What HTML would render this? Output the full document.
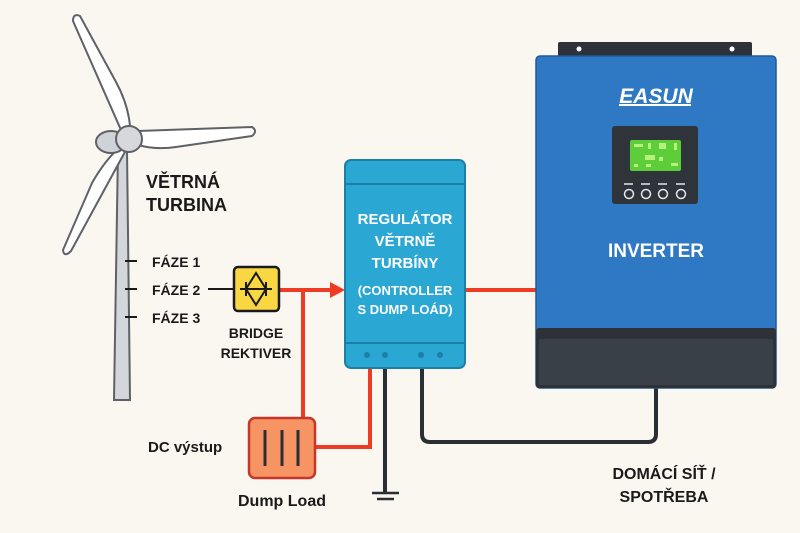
<!DOCTYPE html>
<html><head><meta charset="utf-8"><style>
html,body{margin:0;padding:0;background:#faf7f1;}
svg{display:block;font-family:"Liberation Sans","DejaVu Sans",sans-serif;}
</style></head><body>
<svg width="800" height="533" viewBox="0 0 800 533" xmlns="http://www.w3.org/2000/svg">
<rect width="800" height="533" fill="#faf7f1"/>
<!-- tower -->
<path d="M118,150 L127,150 L130,400 L114,400 Z" fill="#d3d6da" stroke="#5e6166" stroke-width="2"/>
<!-- blades -->
<path d="M121,130 L73,21 Q73,13 80,16 L116,82 Q128,104 130,126 Z" fill="#fff" stroke="#5e6166" stroke-width="2" stroke-linejoin="round"/>
<path d="M138,131 L252,127 Q258,131 252,136 L176,147 Q156,150 138,145 Z" fill="#fff" stroke="#5e6166" stroke-width="2" stroke-linejoin="round"/>
<path d="M126,150 L71,251 Q64,258 63,250 L92,183 Q105,160 121,146 Z" fill="#fff" stroke="#5e6166" stroke-width="2" stroke-linejoin="round"/>
<ellipse cx="111" cy="142" rx="15" ry="11" fill="#cfd2d6" stroke="#5e6166" stroke-width="2"/>
<circle cx="129" cy="139" r="13" fill="#d6d8db" stroke="#5e6166" stroke-width="2"/>
<!-- labels turbine -->
<g font-weight="bold" fill="#1a1a1a">
<text x="146" y="188" font-size="18">VĚTRNÁ</text>
<text x="146" y="211" font-size="18">TURBINA</text>
<text x="152" y="267" font-size="14">FÁZE 1</text>
<text x="152" y="295" font-size="14">FÁZE 2</text>
<text x="152" y="323" font-size="14">FÁZE 3</text>
<text x="256" y="338" font-size="14" text-anchor="middle">BRIDGE</text>
<text x="256" y="358" font-size="14" text-anchor="middle">REKTIVER</text>
<text x="148" y="452" font-size="15">DC výstup</text>
<text x="282" y="506" font-size="16" text-anchor="middle">Dump Load</text>
<text x="664" y="479" font-size="16" text-anchor="middle">DOMÁCÍ SÍŤ /</text>
<text x="664" y="502" font-size="16" text-anchor="middle">SPOTŘEBA</text>
</g>
<g stroke="#1a1a1a" stroke-width="2">
<line x1="125" y1="261" x2="137" y2="261"/>
<line x1="125" y1="289" x2="137" y2="289"/>
<line x1="125" y1="317" x2="137" y2="317"/>
<line x1="208" y1="289" x2="234" y2="289"/>
</g>
<!-- red wires -->
<g stroke="#ee3b24" stroke-width="4" fill="none">
<line x1="279" y1="290" x2="335" y2="290"/>
<line x1="303" y1="290" x2="303" y2="418"/>
<polyline points="315,447 370,447 370,368"/>
<line x1="465" y1="290" x2="537" y2="290"/>
</g>
<polygon points="330,282 345,290 330,298" fill="#ee3b24"/>
<!-- black wires -->
<g stroke="#2b2f35" stroke-width="4" fill="none">
<line x1="385" y1="368" x2="385" y2="492"/>
<path d="M422,368 L422,434 Q422,442 430,442 L648,442 Q656,442 656,434 L656,388"/>
<line x1="372" y1="493" x2="399" y2="493" stroke-width="2.5"/>
<line x1="377" y1="499" x2="394" y2="499" stroke-width="2.5"/>
</g>
<!-- bridge -->
<rect x="234" y="267" width="45" height="44" rx="4" fill="#f8d742" stroke="#1a1a1a" stroke-width="2.5"/>
<g stroke="#1a1a1a" stroke-width="2" fill="none">
<path d="M256,273 L246,289 L256,305 L266,289 Z"/>
<line x1="240" y1="289" x2="272" y2="289"/>
<line x1="246" y1="282" x2="246" y2="296"/>
<line x1="266" y1="282" x2="266" y2="296"/>
</g>
<!-- dump load -->
<rect x="249" y="418" width="66" height="60" rx="6" fill="#f79463" stroke="#c8352a" stroke-width="2.5"/>
<g stroke="#2b2f35" stroke-width="3">
<line x1="265" y1="430" x2="265" y2="466"/><line x1="282" y1="430" x2="282" y2="466"/><line x1="298" y1="430" x2="298" y2="466"/>
</g>
<!-- controller -->
<rect x="345" y="160" width="120" height="208" rx="6" fill="#2aa7d2" stroke="#1c7fa6" stroke-width="2"/>
<line x1="346" y1="184" x2="464" y2="184" stroke="#1c7fa6" stroke-width="2"/>
<line x1="346" y1="343" x2="464" y2="343" stroke="#1c7fa6" stroke-width="2"/>
<g fill="#1c7fa6"><circle cx="367" cy="355" r="3"/><circle cx="385" cy="355" r="3"/><circle cx="421" cy="355" r="3"/><circle cx="440" cy="355" r="3"/></g>
<g fill="#fff" font-weight="bold" text-anchor="middle">
<text x="405" y="224" font-size="15">REGULÁTOR</text>
<text x="405" y="246" font-size="15">VĚTRNĚ</text>
<text x="405" y="268" font-size="15">TURBÍNY</text>
<text x="405" y="295" font-size="13">(CONTROLLER</text>
<text x="405" y="314" font-size="13">S DUMP LOÁD)</text>
</g>
<!-- inverter -->
<rect x="558" y="42" width="194" height="16" rx="2" fill="#2e3238"/>
<circle cx="579" cy="49" r="2.5" fill="#fff"/><circle cx="732" cy="49" r="2.5" fill="#fff"/>
<rect x="536" y="56" width="240" height="332" rx="4" fill="#2f78c4" stroke="#1f5a99" stroke-width="1.5"/>
<rect x="536" y="328" width="240" height="60" rx="3" fill="#2e3238"/>
<rect x="539" y="339" width="234" height="46" fill="#3a4048"/>
<text x="656" y="103" font-size="21" font-weight="bold" font-style="italic" fill="#fff" text-anchor="middle">EASUN</text>
<rect x="619" y="104" width="72" height="2" fill="#fff"/>
<rect x="612" y="126" width="86" height="78" rx="3" fill="#2f343a"/>
<rect x="630" y="140" width="51" height="31" rx="2" fill="#5dcd3a"/>
<g fill="#b8f27a"><rect x="634" y="144" width="9" height="3"/><rect x="648" y="143" width="3" height="6"/><rect x="659" y="143" width="7" height="6"/><rect x="674" y="143" width="3" height="7"/><rect x="645" y="155" width="10" height="5"/><rect x="659" y="157" width="4" height="4"/><rect x="634" y="164" width="4" height="3"/><rect x="646" y="164" width="5" height="3"/><rect x="671" y="163" width="7" height="3"/></g>
<g stroke="#e6e6e6" stroke-width="1.5" fill="none">
<line x1="624" y1="184" x2="633" y2="184"/><line x1="641" y1="184" x2="650" y2="184"/><line x1="658" y1="184" x2="667" y2="184"/><line x1="676" y1="184" x2="685" y2="184"/>
<circle cx="629" cy="194" r="4.5"/><circle cx="646" cy="194" r="4.5"/><circle cx="663" cy="194" r="4.5"/><circle cx="681" cy="194" r="4.5"/>
</g>
<text x="656" y="257" font-size="19" font-weight="bold" fill="#fff" text-anchor="middle">INVERTER</text>
</svg>
</body></html>
